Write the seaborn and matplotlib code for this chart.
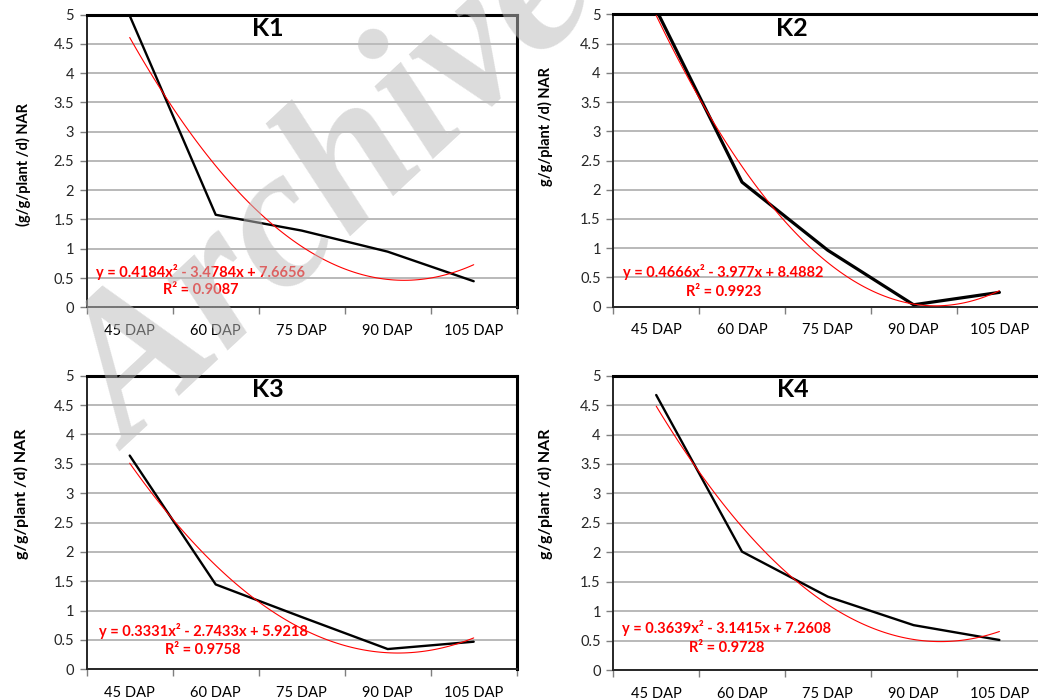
import numpy as np
import pandas as pd
import matplotlib
matplotlib.use("Agg")
import matplotlib.pyplot as plt
import seaborn as sns

# ── Data ──────────────────────────────────────────────────────────────────────
STAGES = ["45 DAP", "60 DAP", "75 DAP", "90 DAP", "105 DAP"]
K1 = [4.98, 1.58, 1.31, 0.95, 0.445]
K2 = [5.08, 2.13, 0.965, 0.033, 0.245]
K3 = [3.64, 1.445, 0.89, 0.345, 0.47]
K4 = [4.672, 2.011, 1.246, 0.762, 0.51]

TITLES = ["K1", "K2", "K3", "K4"]
YLABELS = ["(g/g/plant /d) NAR", "g/g/plant /d) NAR",
           "g/g/plant /d) NAR", "g/g/plant /d) NAR"]
EQUATIONS = ["y = 0.4184x\u00b2 - 3.4784x + 7.6656",
             "y = 0.4666x\u00b2 - 3.977x + 8.4882",
             "y = 0.3331x\u00b2 - 2.7433x + 5.9218",
             "y = 0.3639x\u00b2 - 3.1415x + 7.2608"]
R2 = ["R\u00b2 = 0.9087", "R\u00b2 = 0.9923", "R\u00b2 = 0.9758", "R\u00b2 = 0.9728"]

# ── Style ─────────────────────────────────────────────────────────────────────
sns.set_theme(style="white")
plt.rcParams["font.family"] = ["Lato", "DejaVu Sans"]

W, H = 1038, 699
# plot area boxes in pixels: left, top, right, bottom
BOXES = [(86.7, 14.5, 516.7, 307.3),
         (613.3, 14.3, 1042.3, 306.7),
         (86.7, 375.7, 516.7, 669.3),
         (613.3, 375.7, 1042.3, 670.0)]
TITLE_XY = [(268, 28.5), (792, 28.5), (268, 390), (793, 390)]
YLAB_XY = [(23, 165, 10.5), (545, 127, 10.5), (21, 494, 11.5), (545, 494, 11.5)]
EQ_XY = [(201, 271.5, 290.5), (723.5, 272.5, 292.5),
         (203, 631, 650.5), (727, 628.3, 647.5)]
LW = [1.7, 2.3, 1.7, 1.7]


def fx(px):
    return px / W


def fy(py):
    return 1 - py / H


fig = plt.figure(figsize=(W / 100, H / 100), dpi=100)

for i, vals in enumerate([K1, K2, K3, K4]):
    l, t, r, b = BOXES[i]
    ax = fig.add_axes([fx(l), fy(b), fx(r - l), (b - t) / H])
    df = pd.DataFrame({"x": np.arange(1, len(STAGES) + 1), "y": vals})

    ax.set_axisbelow(True)
    ax.yaxis.grid(True, color="#a6a6a6", linewidth=1.1)
    ax.xaxis.grid(False)

    sns.lineplot(data=df, x="x", y="y", ax=ax, color="black",
                 linewidth=LW[i], zorder=3)
    sns.regplot(data=df, x="x", y="y", ax=ax, order=2, ci=None,
                scatter=False, truncate=True,
                line_kws={"color": "red", "linewidth": 0.8, "zorder": 4})

    ax.set_xlim(0.5, len(STAGES) + 0.5)
    ax.set_ylim(0, 5)
    ax.set_yticks(np.arange(0, 5.01, 0.5))
    ax.set_yticklabels([f"{v:g}" for v in np.arange(0, 5.01, 0.5)],
                       fontsize=10.5, color="#262626")
    ax.set_xticks(np.arange(0.5, len(STAGES) + 1, 1))
    ax.set_xticklabels([])
    ax.set_xticks(np.arange(1, len(STAGES) + 1), STAGES, minor=True)
    ax.tick_params(axis="x", which="major", direction="out", length=5,
                   width=1, color="#7f7f7f", bottom=True)
    ax.tick_params(axis="x", which="minor", length=0, pad=12,
                   labelsize=10.5, labelcolor="black")
    ax.tick_params(axis="y", direction="out", length=5, width=1,
                   color="#7f7f7f", left=True, pad=4)
    ax.set_xlabel("")
    ax.set_ylabel("")

    for side in ["top", "right"]:
        ax.spines[side].set_color("black")
        ax.spines[side].set_linewidth(2.2)
    for side in ["left", "bottom"]:
        ax.spines[side].set_color("#262626")
        ax.spines[side].set_linewidth(1.4)

    tx, ty = TITLE_XY[i]
    fig.text(fx(tx), fy(ty), TITLES[i], ha="center", va="center",
             fontsize=18, fontweight="bold", color="black")
    yx, yy, ys = YLAB_XY[i]
    fig.text(fx(yx), fy(yy), YLABELS[i], rotation=90, ha="center",
             va="center", fontsize=ys, fontweight="bold", color="black")
    ex, ey1, ey2 = EQ_XY[i]
    fig.text(fx(ex), fy(ey1), EQUATIONS[i], ha="center", va="center",
             fontsize=10.5, fontweight="bold", color="red")
    fig.text(fx(ex), fy(ey2), R2[i], ha="center", va="center",
             fontsize=10.5, fontweight="bold", color="red")

# watermark stamp over the page (runs off the top edge, as in the source)
fig.text(fx(130), fy(452), "Archive", rotation=43, rotation_mode="anchor",
         ha="left", va="baseline", fontsize=145, fontweight="bold",
         fontstyle="italic", family="Liberation Serif",
         color="#bdbdbd", alpha=0.53, zorder=10)

fig.savefig("out.png", dpi=100)
